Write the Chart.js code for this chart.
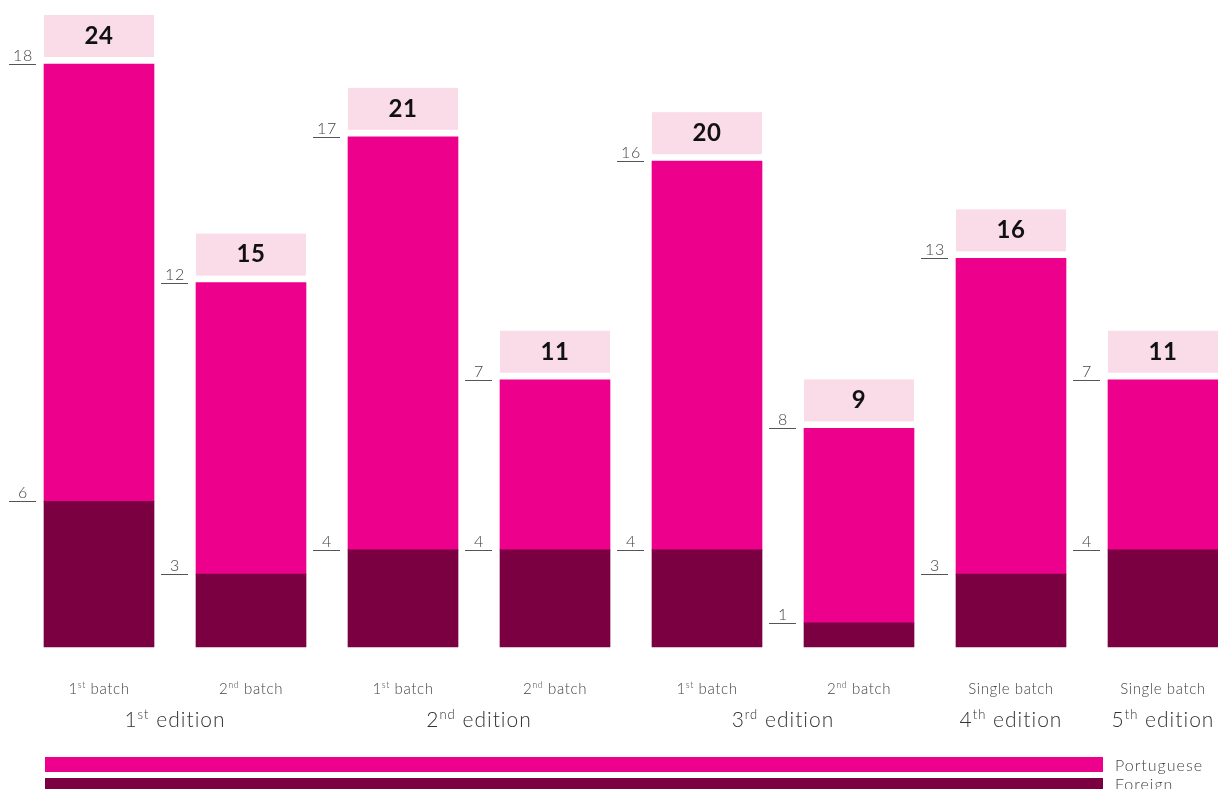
<!DOCTYPE html>
<html>
<head>
<meta charset="utf-8">
<script src="https://cdn.jsdelivr.net/npm/chart.js@4/dist/chart.umd.min.js"></script>
<style>
html,body{margin:0;padding:0;background:#fff;overflow:hidden;}
#wrap{width:1218px;height:789px;position:relative;}
</style>
</head>
<body>
<div id="wrap"><canvas id="c" width="1218" height="789"></canvas></div>
<script>
// ---- data ----
const batchNums = ["1", "2", "1", "2", "1", "2", "", ""];
const batchSups = ["st", "nd", "st", "nd", "st", "nd", "", ""];
const batchRest = [" batch", " batch", " batch", " batch", " batch", " batch", "Single batch", "Single batch"];
const categories = ["1st batch", "2nd batch", "1st batch", "2nd batch", "1st batch", "2nd batch", "Single batch", "Single batch"];
const foreign = [6, 3, 4, 4, 4, 1, 3, 4];
const portuguese = [18, 12, 17, 7, 16, 8, 13, 7];
const editionNums = ["1", "2", "3", "4", "5"];
const editionSups = ["st", "nd", "rd", "th", "th"];
const editionGroups = [[0, 1], [2, 3], [4, 5], [6], [7]];
const seriesNames = ["Portuguese", "Foreign"];

const PINK = "#ec008c";
const DARK = "#7b0041";
const BOX = "#fadce8";
const FONT = "Lato, 'Open Sans', sans-serif";

function drawSup(ctx, parts, cx, baseY, size, color, weight, spacing) {
  const supSize = Math.round(size * 0.6);
  ctx.letterSpacing = spacing + "px";
  let w = 0;
  parts.forEach(p => {
    ctx.font = weight + " " + (p[1] ? supSize : size) + "px " + FONT;
    w += ctx.measureText(p[0]).width;
  });
  let x = cx - w / 2;
  ctx.fillStyle = color;
  ctx.textAlign = "left";
  ctx.textBaseline = "alphabetic";
  parts.forEach(p => {
    ctx.font = weight + " " + (p[1] ? supSize : size) + "px " + FONT;
    ctx.fillText(p[0], x, p[1] ? baseY - size * 0.38 : baseY);
    x += ctx.measureText(p[0]).width;
  });
  ctx.letterSpacing = "0px";
}

const overlay = {
  id: "overlay",
  afterDatasetsDraw(chart) {
    const ctx = chart.ctx;
    const mF = chart.getDatasetMeta(0).data;
    const mP = chart.getDatasetMeta(1).data;
    const xs = chart.scales.x;
    ctx.save();
    for (let i = 0; i < categories.length; i++) {
      const eP = mP[i], eF = mF[i];
      const w = eP.width;
      const left = eP.x - w / 2;
      // total box
      const topY = eP.y;
      const boxH = 42, gap = 7;
      ctx.fillStyle = BOX;
      ctx.fillRect(left, topY - gap - boxH, w, boxH);
      ctx.fillStyle = "#111";
      ctx.font = "bold 24px " + FONT;
      ctx.letterSpacing = "0.5px";
      ctx.textAlign = "center";
      ctx.textBaseline = "middle";
      ctx.fillText(String(foreign[i] + portuguese[i]), eP.x, topY - gap - boxH / 2);
      // side labels
      [[eP, portuguese[i]], [eF, foreign[i]]].forEach(([el, v]) => {
        const y = Math.round(el.y) + 0.5;
        ctx.strokeStyle = "#555";
        ctx.lineWidth = 1;
        ctx.beginPath();
        ctx.moveTo(left - 35, y);
        ctx.lineTo(left - 8, y);
        ctx.stroke();
        ctx.fillStyle = "#444";
        ctx.font = "300 16px " + FONT;
        ctx.letterSpacing = "0.6px";
        ctx.textAlign = "center";
        ctx.textBaseline = "alphabetic";
        ctx.fillText(String(v), left - 21, y - 4);
      });
      ctx.letterSpacing = "0px";
      // batch label
      const cx = xs.getPixelForValue(i);
      const parts = [];
      if (batchNums[i]) parts.push([batchNums[i], false]);
      if (batchSups[i]) parts.push([batchSups[i], true]);
      parts.push([batchRest[i], false]);
      drawSup(ctx, parts, cx, 694, 15, "#444", "300", 0.6);
    }
    // edition labels
    editionGroups.forEach((g, k) => {
      const cx = g.reduce((s, i) => s + xs.getPixelForValue(i), 0) / g.length;
      drawSup(ctx, [[editionNums[k], false], [editionSups[k], true], [" edition", false]], cx, 727, 21, "#333", "300", 1);
    });
    // legend
    ctx.fillStyle = PINK;
    ctx.fillRect(45, 757, 1058, 15);
    ctx.fillStyle = DARK;
    ctx.fillRect(45, 778, 1058, 15);
    ctx.fillStyle = "#444";
    ctx.font = "300 16px " + FONT;
    ctx.letterSpacing = "1px";
    ctx.textAlign = "left";
    ctx.textBaseline = "middle";
    ctx.fillText(seriesNames[0], 1115, 766);
    ctx.fillText(seriesNames[1], 1115, 785);
    ctx.letterSpacing = "0px";
    ctx.restore();
  }
};

new Chart(document.getElementById("c"), {
  type: "bar",
  data: {
    labels: categories,
    datasets: [
      { label: seriesNames[1], data: foreign, backgroundColor: DARK, barThickness: 110, clip: false },
      { label: seriesNames[0], data: portuguese, backgroundColor: PINK, barThickness: 110, clip: false }
    ]
  },
  options: {
    responsive: false,
    animation: false,
    layout: { padding: { left: 99, right: 55, top: 64, bottom: 142 } },
    plugins: { legend: { display: false }, tooltip: { enabled: false } },
    scales: {
      x: { stacked: true, offset: false, display: false },
      y: { stacked: true, min: 0, max: 24, display: false }
    }
  },
  plugins: [overlay]
});
</script>
</body>
</html>
